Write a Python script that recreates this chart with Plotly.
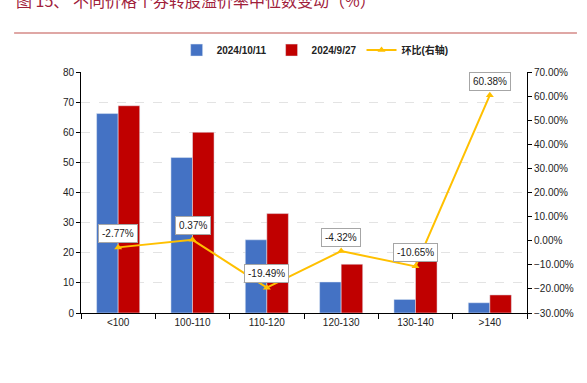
import plotly.graph_objects as go

categories = ["<100", "100-110", "110-120", "120-130", "130-140", ">140"]
s_1011 = [66.2, 51.6, 24.3, 10.3, 4.5, 3.4]
s_0927 = [68.8, 60.0, 33.0, 16.2, 17.3, 6.0]
hb = [-2.77, 0.37, -19.49, -4.32, -10.65, 60.38]
hb_labels = ["-2.77%", "0.37%", "-19.49%", "-4.32%", "-10.65%", "60.38%"]

fig = go.Figure()
fig.add_trace(go.Bar(x=categories, y=s_1011, name="<b>2024/10/11</b>", marker_color="#4472C4"))
fig.add_trace(go.Bar(x=categories, y=s_0927, name="<b>2024/9/27</b>", marker_color="#C00000"))
fig.add_trace(go.Scatter(x=categories, y=hb, name="<b>环比(右轴)</b>", yaxis="y2", mode="lines+markers",
                         line=dict(color="#FFC000", width=2),
                         marker=dict(symbol="triangle-up", size=7, color="#FFC000")))

for c, v, t in zip(categories, hb, hb_labels):
    fig.add_annotation(x=c, y=v, yref="y2", text=t, showarrow=False, yshift=14,
                       bgcolor="white", bordercolor="#A6A6A6", borderwidth=1, borderpad=3,
                       font=dict(size=10, color="#222222", family="Liberation Sans"))

fig.add_annotation(xref="paper", yref="paper", x=-0.150, y=1.298, xanchor="left", yanchor="middle",
                   text="图 15、 不同价格个券转股溢价率中位数变动（%）", showarrow=False,
                   font=dict(size=16, color="#A0203A", family="Noto Sans CJK SC"))
fig.add_shape(type="line", xref="paper", yref="paper", x0=-0.150, x1=1.112, y0=1.1618, y1=1.1618,
              line=dict(color="#C0504D", width=1.2))

fig.update_layout(
    width=587, height=383,
    margin=dict(l=81, r=60, t=72, b=70, autoexpand=False),
    paper_bgcolor="white", plot_bgcolor="white",
    barmode="group", bargap=0.42, bargroupgap=0,
    font=dict(family="Liberation Sans", size=10, color="#222222"),
    legend=dict(orientation="h", x=0.525, xanchor="center", y=1.091, yanchor="middle",
                bgcolor="rgba(0,0,0,0)",
                font=dict(size=10, family="Liberation Sans, Noto Sans CJK SC", color="#222222"),
                itemwidth=30, tracegroupgap=0),
    xaxis=dict(showline=True, linecolor="black", linewidth=1, ticks="outside", ticklen=5,
               tickcolor="black", tickson="boundaries", tickfont=dict(size=10), automargin=False),
    yaxis=dict(range=[0, 80], dtick=10, showline=True, linecolor="black", ticks="outside",
               ticklen=4, tickcolor="black", showgrid=True, gridcolor="#E3E3E3", griddash="dash",
               zeroline=False, tickfont=dict(size=10), automargin=False),
    yaxis2=dict(range=[-30, 70], dtick=10, overlaying="y", side="right", showline=True,
                linecolor="black", ticks="outside", ticklen=4, tickcolor="black", showgrid=False,
                zeroline=False, tickformat=".2f", ticksuffix="%", tickfont=dict(size=10),
                automargin=False),
)
fig.write_html("out.html", config={"displayModeBar": False},
               post_script="document.body.style.margin='0';")
